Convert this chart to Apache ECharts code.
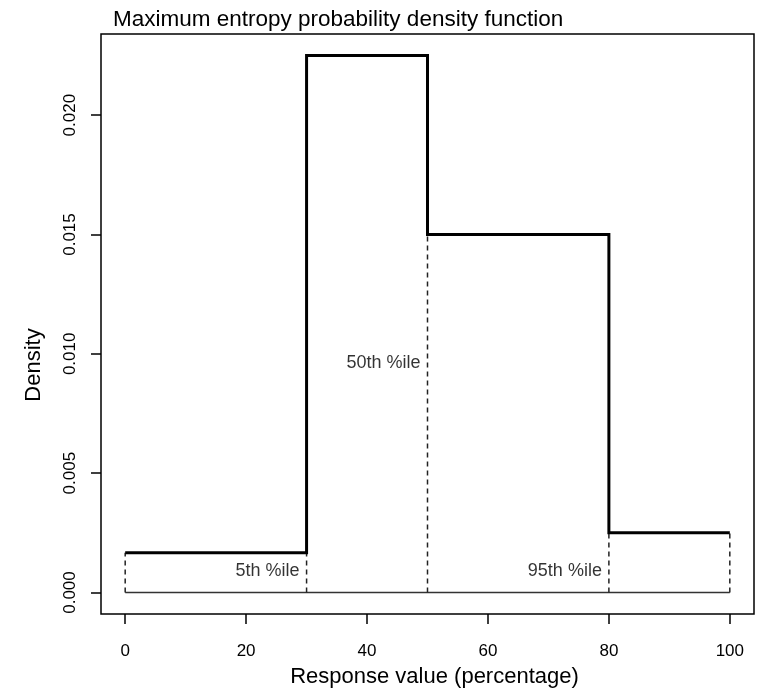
<!DOCTYPE html>
<html>
<head>
<meta charset="utf-8">
<script src="https://cdn.jsdelivr.net/npm/echarts@6/dist/echarts.min.js"></script>
<style>
  html, body { margin: 0; padding: 0; background: #fff; }
  #chart { width: 761px; height: 693px; }
</style>
</head>
<body>
<div id="chart"></div>
<script>
// step density: breaks and the density on each interval
const breaks = [0, 30, 50, 80, 100]
const densities = [0.001667, 0.0225, 0.015, 0.0025]

// percentile labels (placed just left of their break)
const pctNames = ['5th %ile', '50th %ile', '95th %ile']
const pctX = [30, 50, 80]
const pctLabelY = [0.0009, 0.0096, 0.0009]

const xTicks = [0, 20, 40, 60, 80, 100]
const yTicks = [0, 0.005, 0.01, 0.015, 0.02]

const FONT = 'Liberation Sans, Arial, Helvetica, sans-serif'

// outline of the step function
const stepData = []
densities.forEach((d, i) => {
  stepData.push([breaks[i], d])
  stepData.push([breaks[i + 1], d])
})

// dashed verticals from zero up to the lower neighbouring step
const dashSeries = breaks.map((b, i) => {
  const left = i > 0 ? densities[i - 1] : Infinity
  const right = i < densities.length ? densities[i] : Infinity
  const top = Math.min(left, right)
  return {
    type: 'line',
    data: [[b, 0], [b, top]],
    symbol: 'none',
    silent: true,
    lineStyle: { color: '#222', width: 1.5, type: [5, 4] },
    z: 2
  }
})

const chart = echarts.init(document.getElementById('chart'))

const option = {
  backgroundColor: '#fff',
  animation: false,
  title: {
    text: 'Maximum entropy probability density function',
    left: 108,
    top: 3,
    textStyle: { fontFamily: FONT, fontSize: 22.5, fontWeight: 'normal', color: '#000' }
  },
  grid: {
    left: 101,
    right: 7,
    top: 34,
    bottom: 77,
    show: true,
    borderColor: '#000',
    borderWidth: 1.5,
    backgroundColor: 'transparent'
  },
  xAxis: {
    type: 'value',
    min: -4,
    max: 104,
    name: 'Response value (percentage)',
    nameLocation: 'middle',
    nameGap: 52,
    nameTextStyle: { fontFamily: FONT, fontSize: 22, color: '#000', padding: [0, 0, 0, 14] },
    axisLine: { show: false, onZero: false },
    splitLine: { show: false },
    axisTick: {
      show: true,
      inside: false,
      customValues: xTicks,
      length: 10,
      lineStyle: { color: '#000', width: 1.5 }
    },
    axisLabel: {
      customValues: xTicks,
      margin: 29,
      fontFamily: FONT,
      fontSize: 17,
      color: '#000'
    }
  },
  yAxis: {
    type: 'value',
    min: -0.0009,
    max: 0.0234,
    axisLine: { show: false, onZero: false },
    splitLine: { show: false },
    axisTick: {
      show: true,
      inside: false,
      customValues: yTicks,
      length: 10,
      lineStyle: { color: '#000', width: 1.5 }
    },
    axisLabel: {
      customValues: yTicks,
      rotate: 90,
      margin: 22,
      fontFamily: FONT,
      fontSize: 17,
      color: '#000',
      formatter: v => v.toFixed(3)
    }
  },
  graphic: [
    {
      type: 'text',
      x: 34,
      y: 365,
      rotation: Math.PI / 2,
      style: {
        text: 'Density',
        font: '22px ' + FONT,
        fill: '#000',
        align: 'center',
        verticalAlign: 'middle'
      }
    }
  ],
  series: [
    // baseline at zero
    {
      type: 'line',
      data: [[breaks[0], 0], [breaks[breaks.length - 1], 0]],
      symbol: 'none',
      silent: true,
      lineStyle: { color: '#333', width: 1.5 },
      z: 2
    },
    ...dashSeries,
    {
      type: 'line',
      data: stepData,
      symbol: 'none',
      silent: true,
      lineStyle: { color: '#000', width: 3, join: 'miter' },
      z: 3
    },
    {
      type: 'scatter',
      data: pctX.map((x, i) => ({ value: [x, pctLabelY[i]], name: pctNames[i] })),
      symbolSize: 0,
      silent: true,
      label: {
        show: true,
        position: 'left',
        distance: 7,
        formatter: p => p.name,
        fontFamily: FONT,
        fontSize: 18,
        color: '#000'
      },
      z: 4
    }
  ]
}

chart.setOption(option)
</script>
</body>
</html>
